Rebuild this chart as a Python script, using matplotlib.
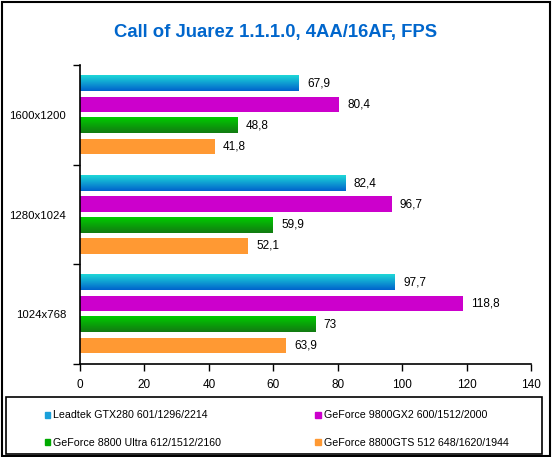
import matplotlib.pyplot as plt
import numpy as np
from matplotlib.colors import LinearSegmentedColormap
from matplotlib.patches import Rectangle, Patch

plt.rcParams['font.family'] = ['Liberation Sans', 'DejaVu Sans']

# data
resolutions = ["1024x768", "1280x1024", "1600x1200"]
series_names = ["Leadtek GTX280 601/1296/2214",
                "GeForce 9800GX2 600/1512/2000",
                "GeForce 8800 Ultra 612/1512/2160",
                "GeForce 8800GTS 512 648/1620/1944"]
gtx280 = [97.7, 82.4, 67.9]
gx2 = [118.8, 96.7, 80.4]
ultra = [73, 59.9, 48.8]
gts512 = [63.9, 52.1, 41.8]
x_ticks = [0, 20, 40, 60, 80, 100, 120, 140]

series = [gtx280, gx2, ultra, gts512]
# (top colour, bottom colour); same colour = flat bar
colors = [("#1ED8D8", "#0062CC"),
          ("#CC00CC", "#CC00CC"),
          ("#00CC00", "#127A12"),
          ("#FF9933", "#FF9933")]
legend_colors = ["#1AA0DA", "#CC00CC", "#00AA00", "#FF9933"]

W, H = 552, 457
fig = plt.figure(figsize=(W / 100, H / 100), dpi=100)
ax = fig.add_axes([80 / W, (H - 364) / H, (531 - 80) / W, (364 - 65) / H])

offsets = [0.315, 0.105, -0.105, -0.315]
bar_h = 0.155

def fmt(v):
    s = ("%.1f" % v).replace(".", ",")
    if s.endswith(",0"):
        s = s[:-2]
    return s

for vals, off, (ctop, cbot) in zip(series, offsets, colors):
    cmap = LinearSegmentedColormap.from_list("g", [cbot, ctop])
    grad = np.linspace(1, 0, 64).reshape(-1, 1)
    for i, v in enumerate(vals):
        y = i + off
        if ctop == cbot:
            ax.barh(y, v, height=bar_h, color=ctop, linewidth=0)
        else:
            ax.imshow(grad, extent=[0, v, y - bar_h / 2, y + bar_h / 2],
                      cmap=cmap, vmin=0, vmax=1, aspect="auto", origin="upper",
                      interpolation="bilinear")
        ax.text(v + 2.6, y, fmt(v), va="center", ha="left", fontsize=8.5)

ax.set_xlim(0, 140)
ax.set_ylim(-0.5, 2.5)
ax.set_aspect("auto")

ax.set_xticks(x_ticks)
ax.set_xticklabels([str(t) for t in x_ticks], fontsize=8.5)
ax.tick_params(axis="x", length=5, width=1, pad=6)

ax.set_yticks([-0.5, 0.5, 1.5, 2.5])
ax.set_yticklabels([])
ax.set_yticks([0, 1, 2], minor=True)
ax.set_yticklabels(resolutions, minor=True, fontsize=8.2)
ax.tick_params(axis="y", which="major", length=5, width=1)
ax.tick_params(axis="y", which="minor", length=0, pad=10)

for s in ["top", "right"]:
    ax.spines[s].set_visible(False)
for s in ["left", "bottom"]:
    ax.spines[s].set_linewidth(1.2)

fig.text(0.5, (H - 33) / H, "Call of Juarez 1.1.1.0, 4AA/16AF, FPS",
         ha="center", va="center", fontsize=13.3, fontweight="bold", color="#0066CC")

# outer border and legend box
fig.patches.append(Rectangle((2 / W, 1 / H), (W - 4) / W, (H - 3) / H,
                             transform=fig.transFigure, fill=False, lw=1.5, ec="black"))
fig.patches.append(Rectangle((6 / W, 3 / H), (542 - 6) / W, (455 - 398) / H,
                             transform=fig.transFigure, fill=False, lw=1.2, ec="black"))

handles = [Patch(color=c) for c in legend_colors]
order = [0, 2, 1, 3]
fig.legend([handles[i] for i in order], [series_names[i] for i in order],
           ncol=2, loc="center left", bbox_to_anchor=(35 / W, (H - 429) / H),
           frameon=False, fontsize=7.7, handlelength=0.5, handleheight=0.5,
           handletextpad=0.3, columnspacing=8.8, labelspacing=1.6)

fig.savefig("out.png", dpi=100)
